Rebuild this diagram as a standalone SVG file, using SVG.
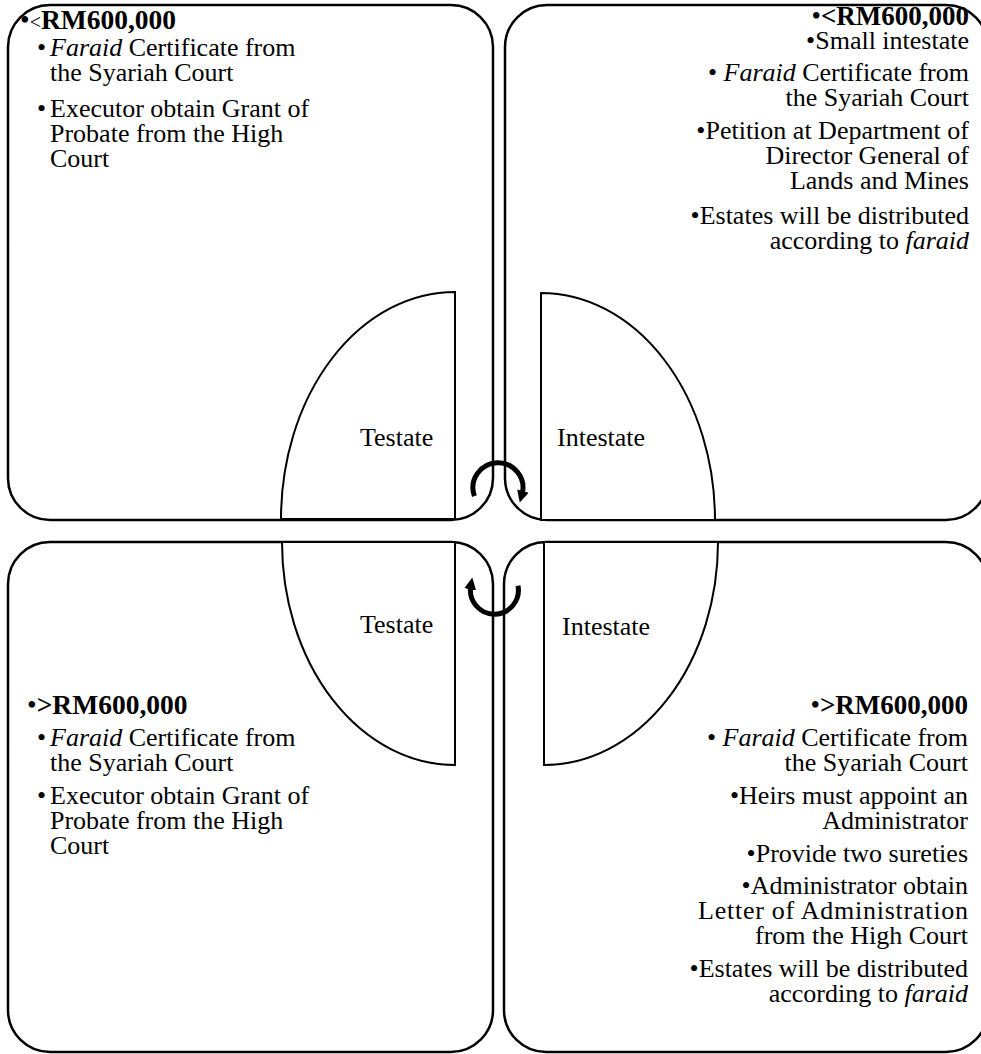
<svg xmlns="http://www.w3.org/2000/svg" width="981" height="1054" viewBox="0 0 981 1054">
<style>
.box{fill:#fff;stroke:#000;stroke-width:2.5}
.half{fill:#fff;stroke:#000;stroke-width:2}
.t{font-family:"Liberation Serif","Times New Roman",serif;font-size:26px;fill:#000}
.h{font-family:"Liberation Serif","Times New Roman",serif;font-size:27.5px;fill:#000}
.hr{font-family:"Liberation Serif","Times New Roman",serif;font-size:27px;fill:#000;text-anchor:end}
.b{font-weight:bold}
.r{text-anchor:end}
.i{font-style:italic}
.arc{fill:none;stroke:#000;stroke-width:5}
</style>
<defs>
<marker id="ah" markerUnits="userSpaceOnUse" markerWidth="12" markerHeight="12" refX="3" refY="5" viewBox="0 0 10 10" orient="auto">
<path d="M0,0 L10,5 L0,10 Z" fill="#000"/>
</marker>
</defs>
<g id="box-tl">
<rect class="box" x="8" y="5" width="485" height="515" rx="42"/>
<text class="h" x="20" y="29">•<tspan font-size="20">&lt;</tspan><tspan class="b">RM600,000</tspan></text>
<text class="t" x="37" y="56">•</text>
<text class="t" x="50" y="56"><tspan class="i">Faraid</tspan> Certificate from</text>
<text class="t" x="50" y="81">the Syariah Court</text>
<text class="t" x="37" y="117">•</text>
<text class="t" x="50" y="117">Executor obtain Grant of</text>
<text class="t" x="50" y="142">Probate from the High</text>
<text class="t" x="50" y="167">Court</text>
</g>
<g id="box-tr">
<rect class="box" x="505" y="5" width="483" height="515" rx="42"/>
<text class="hr" x="969" y="25">•<tspan class="b">&lt;RM600,000</tspan></text>
<text class="t r" x="969" y="49">•Small intestate</text>
<text class="t r" x="969" y="81">• <tspan class="i">Faraid</tspan> Certificate from</text>
<text class="t r" x="969" y="106">the Syariah Court</text>
<text class="t r" x="969" y="139">•Petition at Department of</text>
<text class="t r" x="969" y="164">Director General of</text>
<text class="t r" x="969" y="189">Lands and Mines</text>
<text class="t r" x="969" y="224">•Estates will be distributed</text>
<text class="t r" x="969" y="249">according to <tspan class="i">faraid</tspan></text>
</g>
<g id="box-bl">
<rect class="box" x="8" y="542" width="485" height="510" rx="42"/>
<text class="h" x="27" y="714">•<tspan class="b">&gt;RM600,000</tspan></text>
<text class="t" x="37" y="746">•</text>
<text class="t" x="50" y="746"><tspan class="i">Faraid</tspan> Certificate from</text>
<text class="t" x="50" y="771">the Syariah Court</text>
<text class="t" x="37" y="804">•</text>
<text class="t" x="50" y="804">Executor obtain Grant of</text>
<text class="t" x="50" y="829">Probate from the High</text>
<text class="t" x="50" y="854">Court</text>
</g>
<g id="box-br">
<rect class="box" x="504" y="542" width="484" height="510" rx="42"/>
<text class="hr" x="968" y="714">•<tspan class="b">&gt;RM600,000</tspan></text>
<text class="t r" x="968" y="746">• <tspan class="i">Faraid</tspan> Certificate from</text>
<text class="t r" x="968" y="771">the Syariah Court</text>
<text class="t r" x="968" y="804">•Heirs must appoint an</text>
<text class="t r" x="968" y="829">Administrator</text>
<text class="t r" x="968" y="862">•Provide two sureties</text>
<text class="t r" x="968" y="894">•Administrator obtain</text>
<text class="t r" x="968" y="919" textLength="270" lengthAdjust="spacing">Letter of Administration</text>
<text class="t r" x="968" y="944">from the High Court</text>
<text class="t r" x="968" y="977">•Estates will be distributed</text>
<text class="t r" x="968" y="1002">according to <tspan class="i">faraid</tspan></text>
</g>
<g id="testate-top">
<path class="half" d="M455,292 A174,227 0 0 0 281,519 L455,519 Z"/>
<text class="t" x="360" y="446">Testate</text>
</g>
<g id="intestate-top">
<path class="half" d="M541,293 A174,227 0 0 1 715,520 L541,520 Z"/>
<text class="t" x="557" y="446">Intestate</text>
</g>
<g id="testate-bottom">
<path class="half" d="M282,542 A173,223 0 0 0 455,765 L455,542 Z"/>
<text class="t" x="360" y="633">Testate</text>
</g>
<g id="intestate-bottom">
<path class="half" d="M718,542 A174,223 0 0 1 544,765 L544,542 Z"/>
<text class="t" x="562" y="635">Intestate</text>
</g>
<g id="connectors">
<path class="arc" d="M474.4,496.1 A25,25 0 1 1 522,494.5" marker-end="url(#ah)"/>
<path class="arc" d="M518,585.8 A24,24 0 1 1 470.8,585.8" marker-end="url(#ah)"/>
</g>
</svg>
